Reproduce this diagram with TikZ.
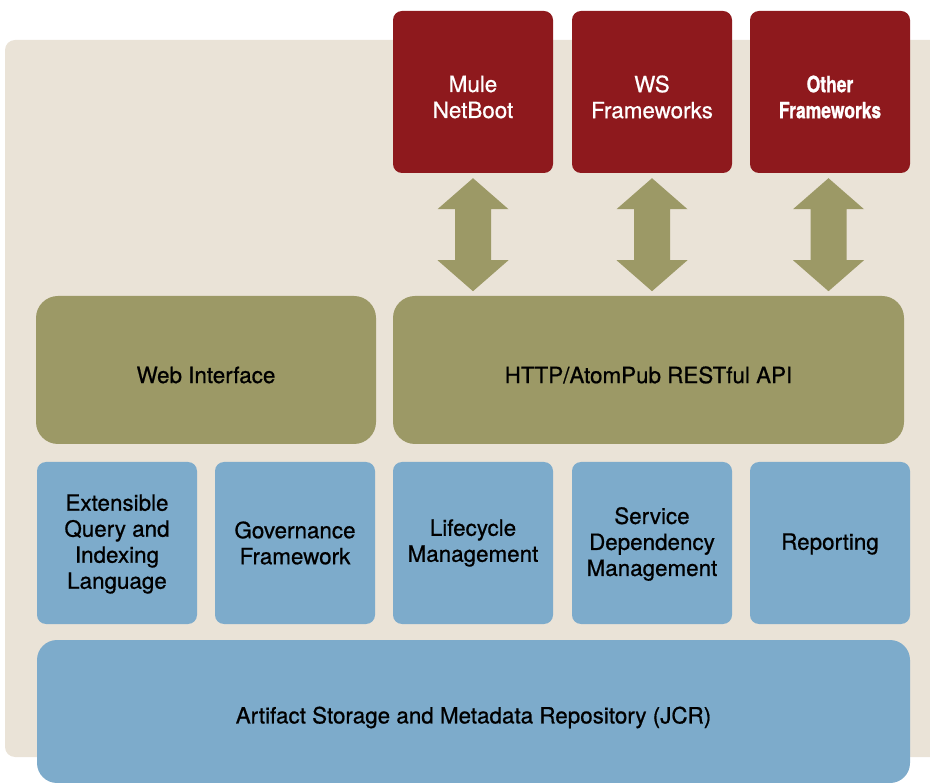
\documentclass[tikz,border=0pt]{standalone}
\usepackage{fontspec}
\setmainfont{TeX Gyre Heros}[FakeBold=0.7]
\newfontfamily\condfont[FakeStretch=0.78, FakeBold=1.0]{TeX Gyre Heros}
\usetikzlibrary{calc}
\definecolor{bgc}{HTML}{EAE3D7}
\definecolor{redc}{HTML}{8E191D}
\definecolor{olivec}{HTML}{9C9966}
\definecolor{bluec}{HTML}{7DABCB}
\tikzset{
  box/.style={rounded corners=9pt, inner sep=0pt, minimum width=160pt, minimum height=162pt},
  redbox/.style={box, fill=redc},
  bluebox/.style={box, fill=bluec},
  olivebox/.style={rounded corners=22pt, inner sep=0pt, fill=olivec, minimum height=148pt},
  txt/.style={align=center, font=\fontsize{22.4}{26}\selectfont, inner sep=0pt},
  whitetxt/.style={txt, text=white},
  blacktxt/.style={txt, text=black},
}
\newcommand{\bigarrow}[2]{%
  \fill[olivec] ($(#1.south)+(#2,5)$) -- ++(35.5,31) -- ++(-17.5,0) -- ++(0,51)
    -- ++(17.5,0) -- ++(-35.5,31) -- ++(-35.5,-31) -- ++(17.5,0) -- ++(0,-51)
    -- ++(-17.5,0) -- cycle;}
\begin{document}
\begin{tikzpicture}[x=1pt, y=-1pt]
\useasboundingbox (0,0) rectangle (930,783);
\clip (0,0) rectangle (930,783);
\fill[bgc, rounded corners=10pt] (5,40) rectangle (950,757);
% top frameworks
\node[redbox] (mule) at (473,92) {};
\node[redbox] (ws) at (652,92) {};
\node[redbox] (other) at (830,92) {};
\node[whitetxt] (muleT) at ([yshift=-5pt]mule.center) {Mule\\NetBoot};
\node[whitetxt] (wsT) at ([yshift=-5pt]ws.center) {WS\\Frameworks};
\node[whitetxt, font=\fontsize{22.4}{26}\condfont\bfseries] (otherT) at ([yshift=-5pt]other.center) {Other\\Frameworks};
% middle layer
\node[olivebox, minimum width=340pt] (web) at (206,370) {};
\node[olivebox, minimum width=511pt] (api) at (648.5,370) {};
\node[blacktxt] (webT) at ([yshift=-5pt]web.center) {Web Interface};
\node[blacktxt] (apiT) at ([yshift=-5pt]api.center) {HTTP/AtomPub RESTful API};
% arrows
\bigarrow{mule}{0}
\bigarrow{ws}{0}
\bigarrow{other}{-1.5}
% services
\node[bluebox] (query) at (117,543) {};
\node[bluebox] (gov) at (295,543) {};
\node[bluebox] (life) at (473,543) {};
\node[bluebox] (dep) at (652,543) {};
\node[bluebox] (rep) at (830,543) {};
\node[blacktxt] (queryT) at ([yshift=-1pt]query.center) {Extensible\\Query and\\Indexing\\Language};
\node[blacktxt] (govT) at ([yshift=0pt]gov.center) {Governance\\Framework};
\node[blacktxt] (lifeT) at ([yshift=0pt]life.center) {Lifecycle\\Management};
\node[blacktxt] (depT) at ([yshift=-1pt]dep.center) {Service\\Dependency\\Management};
\node[blacktxt] (repT) at ([yshift=-1pt]rep.center) {Reporting};
% storage
\node[rounded corners=20pt, inner sep=0pt, fill=bluec, minimum width=873pt, minimum height=143pt] (jcr) at (473.5,711.5) {};
\node[blacktxt] (jcrT) at ([yshift=-6pt]jcr.center) {Artifact Storage and Metadata Repository (JCR)};
\end{tikzpicture}
\end{document}
